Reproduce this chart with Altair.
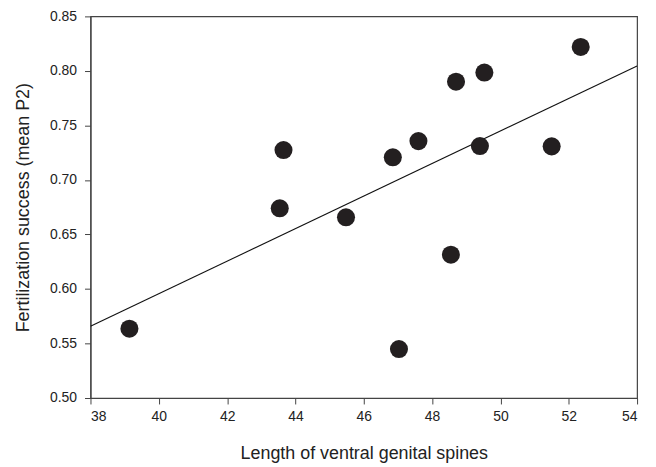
import altair as alt
import pandas as pd

spine_length = [39.14, 43.54, 43.65, 45.48, 46.85, 47.60, 47.03, 48.55, 48.70, 49.53, 49.40, 51.50, 52.35]
mean_p2 = [0.5636, 0.6740, 0.7274, 0.6657, 0.7208, 0.7356, 0.5449, 0.6314, 0.7901, 0.7985, 0.7311, 0.7308, 0.8220]

x_ticks = [38, 40, 42, 44, 46, 48, 50, 52, 54]
y_ticks = [0.50, 0.55, 0.60, 0.65, 0.70, 0.75, 0.80, 0.85]

df = pd.DataFrame({"x": spine_length, "y": mean_p2})

FONT = "Liberation Sans"
AX = "#444444"

x_enc = alt.X("x:Q", scale=alt.Scale(domain=[38, 54], nice=False, zero=False),
              axis=alt.Axis(values=x_ticks, title="Length of ventral genital spines",
                            format="d", labelPadding=6, titlePadding=21))
y_enc = alt.Y("y:Q", scale=alt.Scale(domain=[0.5, 0.85], nice=False, zero=False),
              axis=alt.Axis(values=y_ticks, title="Fertilization success (mean P2)",
                            format=".2f", labelPadding=8, titlePadding=17))

points = alt.Chart(df).mark_circle(size=330, color="#231f20", opacity=1).encode(x=x_enc, y=y_enc)

line = alt.Chart(df).transform_regression("x", "y", extent=[38, 54]).mark_line(
    color="#111111", strokeWidth=1.1, clip=True).encode(x=x_enc, y=y_enc)

chart = alt.layer(line, points).properties(
    width=550, height=384, padding={"left": 6, "top": 0, "right": 10, "bottom": 5}
).configure_view(stroke=AX, strokeWidth=1.2).configure_axis(
    grid=False, domainColor=AX, tickColor=AX, tickSize=6, domainWidth=1.2,
    labelFont=FONT, titleFont=FONT, labelFontSize=14, titleFontSize=18,
    labelColor="#222222", titleColor="#222222", titleFontWeight="normal"
)

chart.save("out.html", embed_options={"renderer": "svg", "actions": False})
